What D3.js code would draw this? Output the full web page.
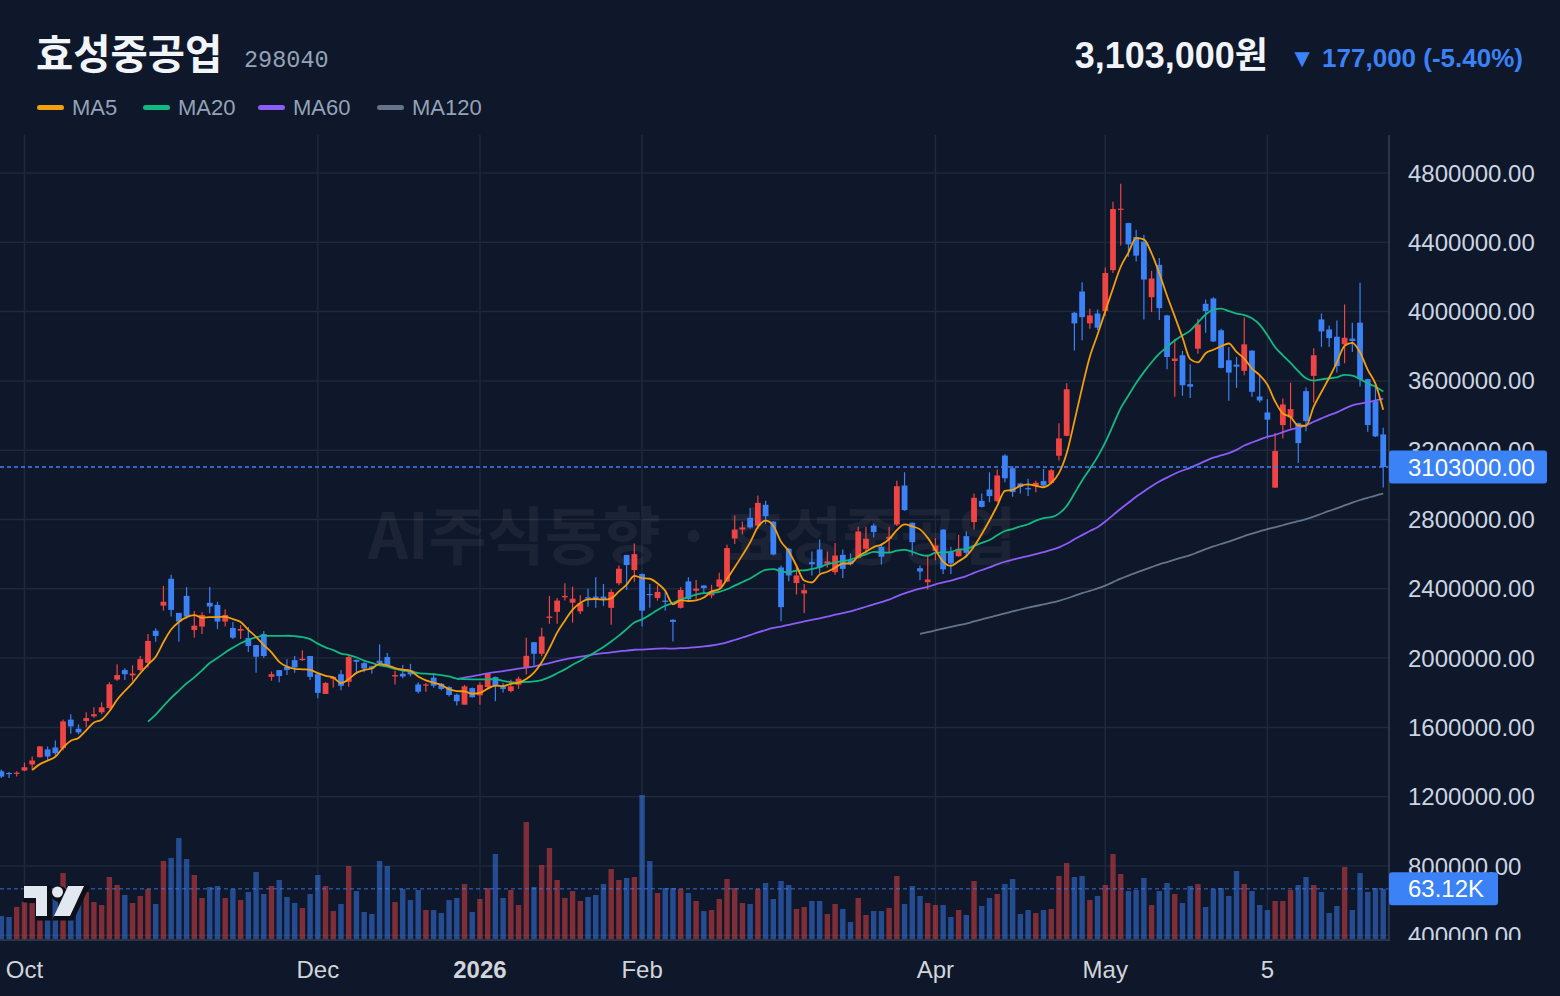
<!DOCTYPE html>
<html>
<head>
<meta charset="utf-8">
<title>효성중공업 298040</title>
<script src="https://cdn.jsdelivr.net/npm/d3@7/dist/d3.min.js"></script>
<style>
  body { margin: 0; background: #0f172a; }
  svg { display: block; }
</style>
</head>
<body>
<div id="main"></div>
<script>
// prices in thousand won, volumes in K
var opens = [1347,1337,1332,1351,1386,1428,1473,1484,1480,1645,
  1592,1637,1664,1687,1712,1876,1931,1900,1931,1973,
  2158,2303,2458,2261,2359,2162,2182,2319,2307,2211,
  2174,2158,2116,2075,2139,1892,1931,1950,1988,1988,
  2012,1907,1793,1880,1907,1863,1990,1971,1952,1985,
  2006,1894,1910,1929,1848,1841,1887,1852,1833,1789,
  1731,1827,1785,1833,1891,1833,1810,1846,1948,2092,
  2025,2232,2267,2351,2320,2270,2351,2355,2355,2290,
  2432,2595,2508,2485,2370,2347,2332,2221,2290,2443,
  2389,2419,2362,2412,2442,2690,2742,2810,2765,2885,
  2788,2523,2631,2433,2373,2554,2627,2546,2496,2596,
  2565,2577,2631,2765,2642,2689,2771,2996,2781,2519,
  2438,2619,2742,2612,2588,2704,2785,2908,2973,2906,
  3169,3096,3008,2981,2992,3022,3011,3168,3283,3993,
  4116,3932,3989,4003,4239,4590,4511,4431,4404,4083,
  4270,3978,3715,3748,3581,3786,4045,4076,3892,3719,
  3694,3658,3775,3510,3418,2984,3345,3389,3356,3541,
  3629,3955,3897,3855,3811,3844,3936,3610,3483,3291];

var highs = [1357,1343,1347,1397,1432,1492,1490,1525,1645,1676,
  1618,1687,1716,1745,1861,1965,1942,1958,2012,2139,
  2172,2417,2481,2261,2410,2272,2265,2410,2325,2282,
  2209,2189,2180,2075,2157,1923,1931,1994,2012,2046,
  2012,1907,1861,1896,1931,2023,1992,1979,1956,2079,
  2029,1927,1960,1967,1860,1856,1914,1856,1837,1795,
  1845,1830,1860,1914,1894,1856,1875,1894,2117,2092,
  2175,2359,2347,2432,2412,2363,2401,2466,2428,2397,
  2535,2597,2662,2489,2428,2420,2386,2224,2409,2466,
  2451,2421,2423,2492,2654,2823,2788,2867,2938,2908,
  2790,2535,2637,2535,2427,2615,2685,2615,2665,2627,
  2604,2758,2758,2777,2662,2758,3023,3073,2783,2535,
  2596,2692,2744,2642,2712,2731,2950,2950,3073,3088,
  3177,3108,3012,3035,3023,3092,3092,3356,3587,3997,
  4170,4016,4012,4254,4634,4738,4513,4473,4442,4235,
  4310,3982,3844,3773,3696,3959,4070,4083,3901,3796,
  3738,3966,3777,3629,3494,3299,3498,3590,3358,3562,
  3788,3989,3920,3949,4041,3936,4166,3613,3567,3329];

var lows = [1308,1308,1316,1347,1355,1426,1413,1438,1467,1563,
  1560,1602,1656,1676,1708,1869,1873,1869,1923,1946,
  2095,2274,2240,2095,2228,2118,2139,2259,2168,2182,
  2110,2110,2035,1915,2000,1869,1861,1902,1915,1985,
  1873,1768,1793,1830,1815,1834,1910,1918,1910,1960,
  1952,1848,1883,1894,1795,1806,1829,1814,1779,1726,
  1731,1772,1731,1827,1751,1802,1802,1823,1906,1960,
  2010,2198,2198,2332,2205,2255,2297,2290,2301,2192,
  2420,2393,2441,2182,2290,2332,2274,2096,2286,2332,
  2340,2373,2346,2396,2438,2658,2715,2746,2746,2773,
  2594,2213,2444,2367,2260,2477,2488,2523,2481,2462,
  2535,2575,2608,2696,2540,2608,2762,2850,2592,2450,
  2396,2565,2485,2485,2585,2581,2742,2869,2900,2900,
  3015,2931,2950,2935,2958,2990,3003,3140,3280,3776,
  3834,3901,3894,3974,4223,4381,4316,4289,3955,3997,
  3951,3667,3508,3514,3502,3757,3878,3824,3673,3485,
  3560,3633,3508,3475,3268,2982,3268,3326,3126,3310,
  3475,3796,3796,3648,3702,3767,3567,3306,3276,2984];

var closes = [1316,1332,1339,1370,1409,1490,1432,1451,1635,1606,
  1571,1654,1676,1716,1849,1902,1907,1911,1994,2099,
  2128,2325,2278,2211,2240,2187,2249,2298,2211,2249,
  2118,2168,2070,2008,2012,1907,1896,1931,1946,1996,
  1892,1799,1857,1892,1840,2006,1979,1940,1940,1971,
  1960,1902,1894,1906,1806,1848,1841,1822,1787,1751,
  1837,1774,1846,1910,1841,1822,1837,1881,2013,2025,
  2125,2240,2332,2359,2343,2317,2343,2343,2340,2382,
  2516,2537,2600,2274,2363,2382,2324,2209,2393,2340,
  2401,2404,2387,2454,2635,2742,2754,2754,2896,2819,
  2598,2294,2477,2477,2392,2542,2523,2558,2592,2515,
  2542,2731,2689,2727,2585,2700,2992,2854,2669,2500,
  2454,2650,2512,2546,2631,2608,2925,2873,2935,3054,
  3038,2958,2988,2977,3012,2996,3084,3268,3552,3932,
  3968,3978,3907,4223,4592,4594,4388,4323,4185,4191,
  4020,3738,3729,3575,3567,3926,4003,3828,3675,3648,
  3682,3811,3537,3487,3376,3195,3464,3437,3241,3368,
  3748,3886,3847,3686,3849,3830,3610,3345,3280,3103];

var volumes = [28.9,27.6,40.2,46.4,45,55,48,52,82.8,50,
  44,59.0,46.4,42.7,77.8,67.8,55.2,45.2,54.0,62.8,
  43.9,97.9,101.7,126.8,100.4,80.3,51.5,65.3,66.5,51.5,
  62.8,48.9,59.0,84.1,56.5,66.5,74.0,52.7,45.2,38.9,
  56.5,80.3,66.5,35.1,43.9,91.6,60.2,33.9,31.4,97.9,
  91.6,46.4,62.8,48.9,61.5,36.4,36.4,32.6,48.9,51.5,
  69.0,33.9,50.2,64.0,106.7,51.5,61.5,42.7,146.8,65.3,
  92.9,114.2,74.0,51.5,60.2,47.7,52.7,55.2,69.0,87.9,
  74.0,76.6,77.8,180.7,97.9,57.7,64.0,64.0,62.8,57.7,
  47.7,35.1,36.4,50.2,75.3,64.0,45.2,43.9,62.8,70.3,
  50.2,72.8,67.8,37.7,40.2,47.7,47.7,31.4,43.9,37.7,
  21.3,51.5,30.1,35.1,35.1,38.9,79.1,43.9,66.5,54.0,
  45.2,42.7,42.7,27.6,36.4,30.1,72.8,41.4,51.5,56.5,
  69.0,75.3,31.4,36.4,32.6,36.4,37.7,79.1,95.4,77.8,
  79.1,48.9,54.0,67.8,106.7,81.6,60.2,61.5,76.6,42.7,
  60.2,70.3,56.5,45.2,66.5,69.0,40.2,62.8,64.0,54.0,
  85.3,69.0,60.2,42.7,36.4,47.7,47.7,61.5,67.8,77.8,
  67.8,59.0,32.6,41.4,90.4,36.4,82.8,59.0,64.0,63.12];

var monthLabels = ["Oct", "Dec", "2026", "Feb", "Apr", "May", "5"];
var monthIndex = [3, 41, 62, 83, 121, 143, 164];
var priceTicks = [400, 800, 1200, 1600, 2000, 2400, 2800, 3200, 3600, 4000, 4400, 4800];

var maPeriods = [5, 20, 60, 120];
var maNames = ["MA5", "MA20", "MA60", "MA120"];
var maColors = ["#f59e0b", "#10b981", "#8b5cf6", "#64748b"];

var upColor = "#ef4444";
var downColor = "#3b82f6";
var bg = "#0f172a";
var gridColor = "#1e293b";

var svg = d3.select("#main").append("svg")
  .attr("width", 1560)
  .attr("height", 996);

svg.append("rect")
  .attr("width", 1560)
  .attr("height", 996)
  .attr("fill", bg);

var paneRight = 1389, paneTop = 135, paneBottom = 940;

var x = d3.scaleLinear().domain([0, closes.length - 1]).range([1.3, 1383.2]);
var y = d3.scaleLinear().domain([400, 4800]).range([935.3, 173]);
var yVol = d3.scaleLinear().domain([0, 63.12]).range([939, 888.7]);

svg.append("clipPath").attr("id", "pane")
  .append("rect").attr("x", 0).attr("y", paneTop)
  .attr("width", paneRight).attr("height", paneBottom - paneTop);
svg.append("clipPath").attr("id", "axisclip")
  .append("rect").attr("x", paneRight).attr("y", paneTop)
  .attr("width", 1560 - paneRight).attr("height", paneBottom - paneTop);

// grid
var grid = svg.append("g").attr("clip-path", "url(#pane)");
grid.selectAll(".hgrid").data(priceTicks).enter().append("line")
  .attr("x1", 0).attr("x2", paneRight)
  .attr("y1", function(d) { return y(d); })
  .attr("y2", function(d) { return y(d); })
  .attr("stroke", gridColor).attr("stroke-width", 1.5);
grid.selectAll(".vgrid").data(monthIndex).enter().append("line")
  .attr("x1", function(d) { return x(d); })
  .attr("x2", function(d) { return x(d); })
  .attr("y1", paneTop).attr("y2", paneBottom)
  .attr("stroke", gridColor).attr("stroke-width", 1.5);

// watermark
svg.append("text")
  .attr("x", 692).attr("y", 531)
  .attr("text-anchor", "middle")
  .attr("dominant-baseline", "central")
  .style("font-family", "'Noto Sans CJK KR', sans-serif")
  .style("font-weight", 700)
  .style("font-size", "63px")
  .attr("fill", "#ffffff").attr("fill-opacity", 0.055)
  .text("AI주식동향 · 효성중공업");

var plot = svg.append("g").attr("clip-path", "url(#pane)");

var idx = d3.range(closes.length);
function isUp(i) { return closes[i] >= opens[i]; }

// volume
plot.selectAll(".vol").data(idx).enter().append("rect")
  .attr("x", function(i) { return x(i) - 2.7; })
  .attr("width", 5.4)
  .attr("y", function(i) { return yVol(volumes[i]); })
  .attr("height", function(i) { return yVol(0) - yVol(volumes[i]); })
  .attr("fill", function(i) { return isUp(i) ? upColor : downColor; })
  .attr("fill-opacity", 0.5);

// candles
plot.selectAll(".wick").data(idx).enter().append("line")
  .attr("x1", function(i) { return x(i); })
  .attr("x2", function(i) { return x(i); })
  .attr("y1", function(i) { return y(highs[i]); })
  .attr("y2", function(i) { return y(lows[i]); })
  .attr("stroke", function(i) { return isUp(i) ? upColor : downColor; })
  .attr("stroke-width", 1.2);
plot.selectAll(".body").data(idx).enter().append("rect")
  .attr("x", function(i) { return x(i) - 2.9; })
  .attr("width", 5.8)
  .attr("y", function(i) { return y(Math.max(opens[i], closes[i])); })
  .attr("height", function(i) { return Math.max(1.2, Math.abs(y(opens[i]) - y(closes[i]))); })
  .attr("fill", function(i) { return isUp(i) ? upColor : downColor; });

// moving averages
function movingAverage(values, n) {
  return values.map(function(v, i) {
    if (i < n - 1) return null;
    return d3.mean(values.slice(i - n + 1, i + 1));
  });
}
var maLine = d3.line()
  .defined(function(d) { return d != null; })
  .x(function(d, i) { return x(i); })
  .y(function(d) { return y(d); })
  .curve(d3.curveMonotoneX);

maPeriods.slice().reverse().forEach(function(p) {
  var k = maPeriods.indexOf(p);
  plot.append("path")
    .datum(movingAverage(closes, p))
    .attr("d", maLine)
    .attr("fill", "none")
    .attr("stroke", maColors[k])
    .attr("stroke-width", 1.8);
});

// last value lines
var lastClose = closes[closes.length - 1];
var lastVol = volumes[volumes.length - 1];
plot.append("line")
  .attr("x1", 0).attr("x2", paneRight)
  .attr("y1", y(lastClose)).attr("y2", y(lastClose))
  .attr("stroke", downColor).attr("stroke-width", 1.5)
  .attr("stroke-dasharray", "4,3");
plot.append("line")
  .attr("x1", 0).attr("x2", paneRight)
  .attr("y1", yVol(lastVol)).attr("y2", yVol(lastVol))
  .attr("stroke", downColor).attr("stroke-opacity", 0.55).attr("stroke-width", 1.5)
  .attr("stroke-dasharray", "4,3");

// pane borders
svg.append("line")
  .attr("x1", paneRight).attr("x2", paneRight)
  .attr("y1", paneTop).attr("y2", paneBottom + 1)
  .attr("stroke", "#334155").attr("stroke-width", 1.5);
svg.append("line")
  .attr("x1", 0).attr("x2", paneRight)
  .attr("y1", paneBottom).attr("y2", paneBottom)
  .attr("stroke", "#334155").attr("stroke-width", 1.5);

// price axis
var axisFont = "'Liberation Sans', Arial, sans-serif";
var axisG = svg.append("g").attr("clip-path", "url(#axisclip)");
axisG.selectAll(".ptick").data(priceTicks).enter().append("text")
  .attr("x", 1408)
  .attr("y", function(d) { return y(d) + 8.5; })
  .style("font-family", axisFont)
  .style("font-size", "24px")
  .attr("fill", "#cbd5e1")
  .text(function(d) { return d3.format(".2f")(d * 1000); });

function axisBadge(yy, w, label) {
  axisG.append("rect")
    .attr("x", paneRight).attr("y", yy - 16.5)
    .attr("width", w).attr("height", 33).attr("rx", 3)
    .attr("fill", downColor);
  axisG.append("text")
    .attr("x", 1408).attr("y", yy + 8.5)
    .style("font-family", axisFont)
    .style("font-size", "24px")
    .attr("fill", "#ffffff")
    .text(label);
}
axisBadge(y(lastClose), 158, d3.format(".2f")(lastClose * 1000));
axisBadge(yVol(lastVol), 109, d3.format(".2f")(lastVol) + "K");

// time axis
svg.selectAll(".xtick").data(monthIndex).enter().append("text")
  .attr("x", function(d) { return x(d); })
  .attr("y", 978)
  .attr("text-anchor", "middle")
  .style("font-family", axisFont)
  .style("font-size", "24px")
  .style("font-weight", function(d, i) { return monthLabels[i] === "2026" ? 700 : 400; })
  .attr("fill", "#d1d5db")
  .text(function(d, i) { return monthLabels[i]; });

// header
var headFont = "'Liberation Sans', 'Noto Sans CJK KR', sans-serif";
svg.append("text")
  .attr("x", 36).attr("y", 69)
  .style("font-family", "'Noto Sans CJK KR', sans-serif")
  .style("font-weight", 700)
  .style("font-size", "40.5px")
  .attr("fill", "#f1f5f9")
  .text("효성중공업");
svg.append("text")
  .attr("x", 244).attr("y", 67)
  .style("font-family", "'Liberation Mono', 'DejaVu Sans Mono', monospace")
  .style("font-size", "23.5px")
  .attr("fill", "#94a3b8")
  .text("298040");

var prevClose = closes[closes.length - 2];
var change = lastClose - prevClose;
var pct = change / prevClose * 100;
svg.append("text")
  .attr("x", 1268).attr("y", 68)
  .attr("text-anchor", "end")
  .style("font-family", headFont)
  .style("font-weight", 700)
  .style("font-size", "36px")
  .attr("fill", "#f1f5f9")
  .text(d3.format(",")(lastClose * 1000) + "원");
svg.append("text")
  .attr("x", 1523).attr("y", 66.5)
  .attr("text-anchor", "end")
  .style("font-family", headFont)
  .style("font-weight", 700)
  .style("font-size", "26px")
  .attr("fill", downColor)
  .text("▼ " + d3.format(",")(Math.abs(change) * 1000) + " (" + (pct < 0 ? "-" : "+") + Math.abs(pct).toFixed(2) + "%)");

// legend
var legendX = [37, 143, 258, 377];
maNames.forEach(function(name, k) {
  svg.append("rect")
    .attr("x", legendX[k]).attr("y", 105)
    .attr("width", 27).attr("height", 5).attr("rx", 2.5)
    .attr("fill", maColors[k]);
  svg.append("text")
    .attr("x", legendX[k] + 35).attr("y", 115)
    .style("font-family", axisFont)
    .style("font-size", "22px")
    .attr("fill", "#94a3b8")
    .text(name);
});

// tradingview attribution mark
var logo = svg.append("g").attr("transform", "translate(22,882)");
var logoParts = function(g) {
  g.append("path").attr("d", "M2,4 H25 V34 H14 V16 H2 Z");
  g.append("circle").attr("cx", 35.5).attr("cy", 10).attr("r", 5.5);
  g.append("path").attr("d", "M46,4 H62 L48,34 H32 Z");
};
var shadow = logo.append("g").attr("fill", "#0b0f17").attr("stroke", "#0b0f17")
  .attr("stroke-width", 5).attr("transform", "translate(2,2)");
logoParts(shadow);
var face = logo.append("g").attr("fill", "#e2e8f0");
logoParts(face);
</script>
</body>
</html>
